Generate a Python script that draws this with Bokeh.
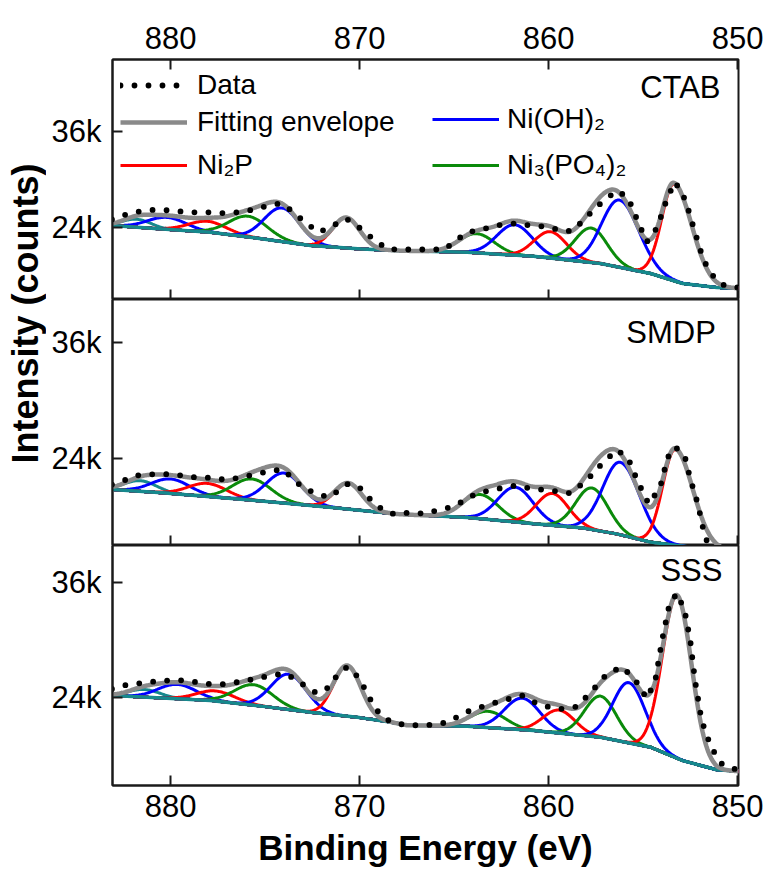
import numpy as np
from math import pi
from bokeh.plotting import figure
from bokeh.models import Range1d, FixedTicker, LinearAxis, Legend, LegendItem, Label
from bokeh.layouts import column, row
from bokeh.embed import file_html
from bokeh.resources import INLINE

# ---------------- data ----------------
x_ticks = [880, 870, 860, 850]
y_ticks = [24000, 36000]
y_tick_labels = {24000: "24k", 36000: "36k"}
panel_names = ["CTAB", "SMDP", "SSS"]
legend_names = ["Data", "Fitting envelope", "Ni\u2082P", "Ni(OH)\u2082", "Ni\u2083(PO\u2084)\u2082"]

# --- CTAB ---
ctab_data_x = [883.1, 882.55, 881.9, 881.2, 880.5, 879.8, 879.1, 878.4, 877.8, 877.2, 876.5, 875.9, 875.2,
               874.6, 874.1, 873.6, 872.8, 872.15, 871.4, 870.7, 869.9, 869.2, 868.5, 867.8, 866.5, 865.5,
               865.0, 864.3, 863.6, 862.8, 861.8, 860.95, 860.1, 859.2, 858.7, 858.0, 857.25, 856.4, 855.8,
               855.3, 854.8, 854.25, 853.7, 853.3, 852.75, 852.3, 851.8, 851.25, 850.7, 850.0]
ctab_data_y = [25000, 25500, 25900, 26200, 26200, 26100, 25900, 25900, 25900, 25800, 25900, 26100, 26500,
               26900, 27000, 26100, 24500, 23400, 24250, 25100, 23800, 22400, 21300, 21250, 21250, 21250,
               22200, 23400, 23700, 24250, 24500, 24250, 24100, 23550, 23600, 25300, 27000, 28600, 27800,
               24900, 22200, 24000, 27800, 29700, 27400, 23800, 19900, 17800, 16750, 16500]
ctab_bg_x = [883.1, 880.45, 877.9, 875.2, 872.6, 869.9, 867.8, 864.3, 860.8, 857.25, 854.6, 852.9, 851.1, 850.0]
ctab_bg_y = [24250, 23800, 23400, 22600, 21750, 21300, 21100, 20900, 20400, 19500, 18250, 17000, 16500, 16400]
ctab_peak_center = [881.8, 880.2, 878.05, 875.9, 874.1, 870.7, 863.8, 861.8, 859.9, 857.75, 856.25, 853.35]
ctab_peak_height = [1000, 1500, 1350, 2600, 4200, 3800, 2400, 3800, 3300, 4300, 8400, 12100]
ctab_fwhm_hi = [1.8, 2.4, 2.4, 2.4, 2.2, 1.7, 2.2, 2.2, 2.0, 2.0, 2.2, 1.55]
ctab_fwhm_lo = [1.8, 2.4, 2.4, 2.4, 2.2, 1.7, 2.2, 2.2, 2.0, 2.0, 2.4, 2.2]
ctab_species = ["sat", "nioh", "ni2p", "nipo", "nioh", "ni2p", "nipo", "nioh", "ni2p", "nipo", "nioh", "ni2p"]

# --- SMDP ---
smdp_data_x = [883.1, 882.5, 881.8, 881.1, 880.5, 879.7, 879.0, 878.3, 877.6, 876.9, 876.2, 875.4, 874.7,
               874.0, 873.6, 873.0, 872.2, 871.6, 870.6, 870.0, 869.3, 868.7, 868.1, 867.4, 866.5, 865.8,
               865.1, 864.6, 863.8, 862.75, 861.75, 860.8, 859.9, 858.85, 858.0, 857.25, 856.4, 855.8,
               855.3, 854.7, 854.1, 853.7, 853.3, 852.8, 852.5, 852.1, 851.8, 851.5]
smdp_data_y = [21300, 21700, 22250, 22350, 22400, 22350, 22050, 22100, 21900, 21800, 22100, 22400, 22750,
               22850, 22000, 21000, 20300, 20000, 21400, 21000, 19500, 18600, 18200, 18400, 18300, 18700,
               19000, 19500, 20400, 20850, 21200, 20850, 20700, 20400, 21700, 23300, 24900, 24100,
               21700, 19300, 21000, 24100, 25200, 24300, 21900, 19300, 16550, 14700]
smdp_bg_x = [883.1, 880.45, 877.9, 875.2, 872.6, 870.0, 868.0, 864.3, 860.8, 858.15, 856.4, 854.6, 853.2, 851.5, 850.0]
smdp_bg_y = [20800, 20450, 20050, 19600, 19150, 18650, 18250, 17900, 17250, 16800, 16200, 15350, 15000, 14600, 14400]
smdp_peak_center = [881.6, 880.0, 878.05, 875.7, 874.0, 870.6, 863.6, 861.75, 859.8, 857.7, 856.2, 853.3]
smdp_peak_height = [1100, 1500, 1350, 2200, 3100, 2700, 2500, 3600, 3300, 4300, 7500, 9900]
smdp_fwhm_hi = [2.0, 2.4, 2.4, 2.4, 2.2, 1.7, 2.2, 2.2, 2.0, 2.0, 2.2, 1.55]
smdp_fwhm_lo = [2.0, 2.4, 2.4, 2.4, 2.2, 1.7, 2.2, 2.2, 2.0, 2.0, 2.4, 2.2]
smdp_species = ["sat", "nioh", "ni2p", "nipo", "nioh", "ni2p", "nipo", "nioh", "ni2p", "nipo", "nioh", "ni2p"]

# --- SSS ---
sss_data_x = [883.1, 882.55, 881.9, 881.3, 880.7, 880.0, 879.3, 878.6, 877.9, 877.2, 876.5, 875.8, 874.7,
              874.0, 873.4, 872.8, 872.25, 871.6, 871.2, 870.65, 870.1, 869.65, 869.3, 868.9, 868.3, 867.5,
              866.8, 866.1, 865.4, 864.8, 864.2, 863.5, 862.6, 861.4, 860.45, 859.4, 858.5, 857.7, 856.9,
              856.1, 855.4, 854.8, 854.35, 854.0, 853.6, 853.2, 852.8, 852.5, 852.25, 851.9, 851.4,
              850.85, 850.25, 850.0]
sss_data_y = [24900, 25250, 25400, 25600, 25700, 25800, 25800, 25600, 25400, 25400, 25600, 25850, 26300,
              26500, 25950, 25100, 24450, 25100, 26300, 27200, 26200, 24700, 23300, 22200, 21400, 21100,
              21100, 21150, 21400, 22000, 22600, 23050, 23600, 24200, 23200, 22800, 23050, 24700, 26500,
              27200, 25800, 23900, 25800, 29950, 33800, 34900, 33100, 29950, 25800, 21600, 18800,
              17100, 16550, 16500]
sss_bg_x = [883.1, 880.45, 877.9, 875.2, 872.6, 870.0, 868.4, 867.5, 864.3, 860.8, 857.25, 854.6, 852.9, 851.1, 850.0]
sss_bg_y = [24200, 23950, 23700, 23100, 22450, 21900, 21450, 21100, 21000, 20550, 19850, 18800, 17400, 16450, 16300]
sss_peak_center = [881.4, 879.65, 877.6, 875.6, 873.75, 870.65, 863.2, 861.4, 859.45, 857.25, 855.75, 853.2]
sss_peak_height = [800, 1500, 1050, 2150, 3700, 5300, 1700, 3300, 2400, 4300, 6300, 17000]
sss_fwhm_hi = [2.0, 2.4, 2.4, 2.4, 2.2, 1.7, 2.2, 2.2, 2.0, 2.0, 2.0, 1.8]
sss_fwhm_lo = [2.0, 2.4, 2.4, 2.4, 2.2, 1.7, 2.2, 2.2, 2.0, 2.0, 2.0, 1.8]
sss_species = ["sat", "nioh", "ni2p", "nipo", "nioh", "ni2p", "nipo", "nioh", "ni2p", "nipo", "nioh", "ni2p"]

# ---------------- styling ----------------
FONT = "Liberation Sans"
AX = "#1a1a1a"
TEAL = "#16898d"
GRAY = "#8a8a8a"
COLORS = {"ni2p": "#ff0000", "nioh": "#0000ff", "nipo": "#0a8a0a", "sat": TEAL}
X_RANGE = (883.07, 849.95)
PANEL_W = 724
LEFT_BORDER = 66
RIGHT_BORDER = 32
TICK_PX = 10


def style_axis(ax, size="31px", standoff=10):
    ax.axis_line_width = 2
    ax.axis_line_color = AX
    ax.major_tick_in = TICK_PX
    ax.major_tick_out = 0
    ax.minor_tick_in = 0
    ax.minor_tick_out = 0
    ax.major_tick_line_width = 2
    ax.major_tick_line_color = AX
    ax.major_label_text_font = FONT
    ax.major_label_text_color = "black"
    ax.major_label_text_font_size = size
    ax.major_label_standoff = standoff


def make_panel(name, name_xy, data_x, data_y, bg_x, bg_y, pc, ph, fhi, flo, sp,
               y_rng, height, top_border, bottom_border, top_axis, bottom_axis):
    p = figure(width=PANEL_W, height=height, x_range=Range1d(*X_RANGE), y_range=Range1d(*y_rng),
               output_backend="svg", toolbar_location=None,
               x_axis_location=None, y_axis_location=None,
               min_border_left=LEFT_BORDER, min_border_right=RIGHT_BORDER,
               min_border_top=top_border, min_border_bottom=bottom_border)
    p.grid.visible = False
    p.outline_line_color = AX
    p.outline_line_width = 2
    p.background_fill_color = "white"
    p.border_fill_color = "white"

    xg = np.arange(849.9, 883.16, 0.05)
    bxa = np.array(bg_x)[::-1]
    bya = np.array(bg_y)[::-1]
    bg_g = np.interp(xg, bxa, bya)
    env = bg_g.copy()
    rends = {}
    for c, h, fh, fl, s in zip(pc, ph, fhi, flo, sp):
        w = np.where(xg >= c, fh, fl)
        comp = h * np.exp(-4.0 * np.log(2.0) * (xg - c) ** 2 / w ** 2)
        env = env + comp
        r = p.line(xg, bg_g + comp, line_color=COLORS[s], line_width=3)
        rends.setdefault(s, r)
    p.line(bg_x, bg_y, line_color=TEAL, line_width=3.5)
    env_r = p.line(xg, env, line_color=GRAY, line_width=4.5)
    data_r = p.line(data_x, data_y, line_color="black", line_width=5.8,
                    line_dash="0 14", line_cap="round")

    yax = LinearAxis(ticker=FixedTicker(ticks=y_ticks), major_label_overrides=y_tick_labels)
    style_axis(yax, standoff=11)
    p.add_layout(yax, "left")

    if bottom_axis:
        xax = LinearAxis(ticker=FixedTicker(ticks=x_ticks))
        style_axis(xax, standoff=9)
        xax.axis_label = "Binding Energy (eV)"
        xax.axis_label_text_font = FONT
        xax.axis_label_text_font_size = "35px"
        xax.axis_label_text_font_style = "bold"
        xax.axis_label_text_color = "black"
        xax.axis_label_standoff = 8
        p.add_layout(xax, "below")
    else:
        # inward tick marks on the shared panel boundary (no labels there)
        frame_h = height - top_border - bottom_border
        tick_len = TICK_PX * (y_rng[1] - y_rng[0]) / frame_h
        p.segment(x0=x_ticks, y0=[y_rng[0]] * len(x_ticks), x1=x_ticks,
                  y1=[y_rng[0] + tick_len] * len(x_ticks), line_color=AX, line_width=2)

    if top_axis:
        tax = LinearAxis(ticker=FixedTicker(ticks=x_ticks))
        style_axis(tax, standoff=11)
        p.add_layout(tax, "above")

    p.add_layout(Label(x=name_xy[0], y=name_xy[1], text=name, text_align="right",
                       text_baseline="middle", text_font=FONT, text_font_size="31px",
                       text_color="black"))
    return p, data_r, env_r, rends


def add_legend(p, label, renderer, loc, glyph_w=67, standoff=10):
    leg = Legend(items=[LegendItem(label=label, renderers=[renderer])], location=loc,
                 padding=0, margin=0, spacing=0, border_line_color=None,
                 background_fill_alpha=0, glyph_width=glyph_w, glyph_height=36,
                 label_height=36, label_standoff=standoff, label_text_font=FONT,
                 label_text_font_size="28px", label_text_color="black")
    p.add_layout(leg)


p1, d1, e1, r1 = make_panel(panel_names[0], (850.9, 41500), ctab_data_x, ctab_data_y, ctab_bg_x, ctab_bg_y,
                            ctab_peak_center, ctab_peak_height, ctab_fwhm_hi, ctab_fwhm_lo, ctab_species,
                            (15000, 45000), 299, 59, 0, True, False)
p2, _, _, _ = make_panel(panel_names[1], (851.15, 37060), smdp_data_x, smdp_data_y, smdp_bg_x, smdp_bg_y,
                         smdp_peak_center, smdp_peak_height, smdp_fwhm_hi, smdp_fwhm_lo, smdp_species,
                         (15000, 40450), 246, 0, 0, False, False)
p3, _, _, _ = make_panel(panel_names[2], (850.8, 37260), sss_data_x, sss_data_y, sss_bg_x, sss_bg_y,
                         sss_peak_center, sss_peak_height, sss_fwhm_hi, sss_fwhm_lo, sss_species,
                         (14800, 39900), 333, 0, 93, False, True)

add_legend(p1, legend_names[0], d1, (8, 196))
add_legend(p1, legend_names[1], e1, (8, 159))
add_legend(p1, legend_names[2], r1["ni2p"], (8, 116))
add_legend(p1, legend_names[3], r1["nioh"], (320, 162), standoff=8)
add_legend(p1, legend_names[4], r1["nipo"], (320, 116), standoff=8)

lab = figure(width=46, height=878, x_range=Range1d(0, 46), y_range=Range1d(0, 878),
             output_backend="svg", toolbar_location=None, x_axis_location=None,
             y_axis_location=None, min_border=0)
lab.grid.visible = False
lab.outline_line_color = None
lab.add_layout(Label(x=25, y=878 - 313, text="Intensity (counts)", angle=pi / 2,
                     text_align="center", text_baseline="middle", text_font=FONT,
                     text_font_size="36px", text_font_style="bold", text_color="black"))

layout = row(lab, column(p1, p2, p3, spacing=0), spacing=0)
open("out.html", "w").write(file_html(layout, INLINE))
